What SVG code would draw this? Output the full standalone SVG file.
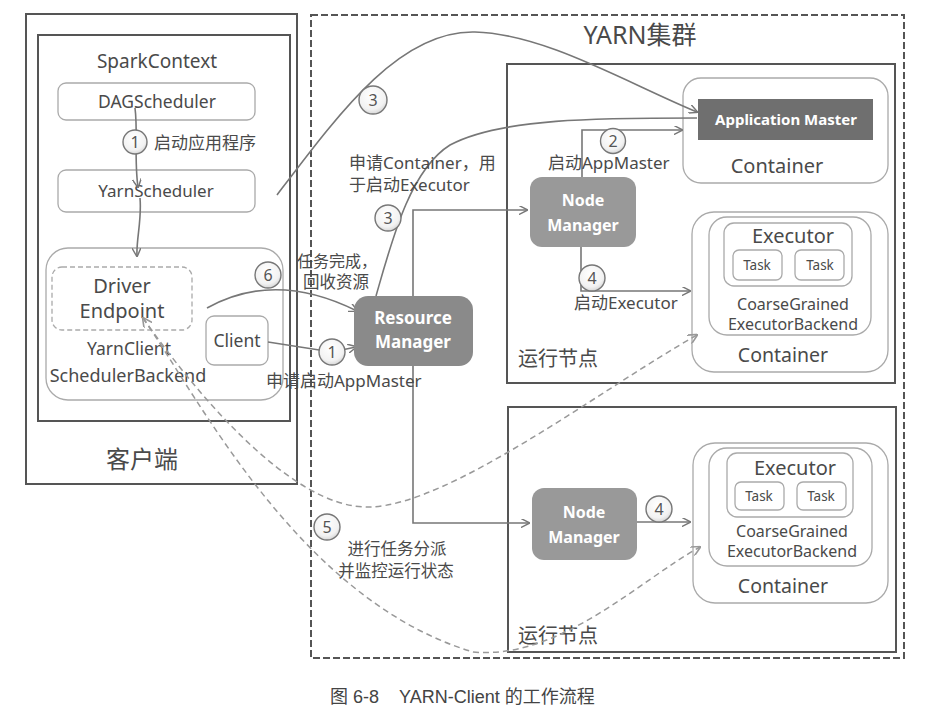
<svg xmlns="http://www.w3.org/2000/svg" width="936" height="719" viewBox="0 0 936 719">
<style>
text{font-family:"Noto Sans","Noto Sans CJK SC",sans-serif;fill:#4a4a4a}
.c{text-anchor:middle}
.frame{fill:none;stroke:#555;stroke-width:2}
.dash{fill:none;stroke:#555;stroke-width:2;stroke-dasharray:7,3}
.soft{fill:#fff;stroke:#aaa;stroke-width:1.3}
.gbox{fill:#999;stroke:none}
.wt{fill:#fff;font-weight:bold}
.ln{fill:none;stroke:#777;stroke-width:1.6}
.dl{fill:none;stroke:#999;stroke-width:1.5;stroke-dasharray:6,4}
.num{fill:url(#cg);stroke:#777;stroke-width:1.4}
.nt{font-size:16px;text-anchor:middle;fill:#555}
.lb{font-size:17px}
</style>
<defs>
<radialGradient id="cg" cx="0.45" cy="0.35" r="0.7"><stop offset="0" stop-color="#fff"/><stop offset="0.7" stop-color="#f2f2f2"/><stop offset="1" stop-color="#d0d0d0"/></radialGradient>
<marker id="ar" viewBox="0 0 10 10" refX="9" refY="5" markerWidth="9" markerHeight="9" markerUnits="userSpaceOnUse" orient="auto-start-reverse"><path d="M0,0 L10,5 L0,10" fill="none" stroke="#777" stroke-width="1.6"/></marker>
<marker id="ard" viewBox="0 0 10 10" refX="9" refY="5" markerWidth="10" markerHeight="10" markerUnits="userSpaceOnUse" orient="auto-start-reverse"><path d="M0,0 L10,5 L0,10" fill="none" stroke="#999" stroke-width="1.6"/></marker>
</defs>
<rect width="936" height="719" fill="#fff"/>

<g id="client">
<rect class="frame" x="26" y="14" width="271" height="470"/>
<text class="c" x="142" y="468" font-size="24">客户端</text>
</g>
<g id="sparkcontext">
<rect class="frame" x="38" y="35" width="252" height="386" stroke-width="1.6"/>
<text class="c" x="157" y="68" font-size="19">SparkContext</text>
</g>
<g id="dagscheduler">
<rect class="soft" x="58" y="83" width="197" height="37" rx="8"/>
<text class="c" x="157" y="108" font-size="17.5">DAGScheduler</text>
</g>
<g id="yarnscheduler">
<rect class="soft" x="58" y="170" width="197" height="42" rx="8"/>
<text class="c" x="156" y="197" font-size="17">YarnScheduler</text>
</g>
<g id="backend">
<rect class="soft" x="46" y="248" width="237" height="152" rx="22"/>
<text class="c" x="129" y="355" font-size="17.5">YarnClient</text>
<text class="c" x="128" y="382" font-size="18">SchedulerBackend</text>
</g>
<g id="driver">
<rect fill="#fff" stroke="#aaa" stroke-width="1.3" stroke-dasharray="5,3" x="52" y="267" width="140" height="63" rx="10"/>
<text class="c" x="122" y="293" font-size="20">Driver</text>
<text class="c" x="122" y="318" font-size="20">Endpoint</text>
</g>
<g id="clientbox">
<rect class="soft" x="206" y="316" width="62" height="49" rx="8"/>
<text class="c" x="237" y="347" font-size="17.5">Client</text>
</g>

<g id="yarn">
<rect class="dash" x="311" y="15" width="593" height="643"/>
<text class="c" x="640" y="44" font-size="25">YARN集群</text>
</g>
<g id="node1">
<rect class="frame" x="507" y="64" width="388" height="319"/>
<text x="518" y="366" font-size="20">运行节点</text>
</g>
<g id="node2">
<rect class="frame" x="508" y="407" width="388" height="245"/>
<text x="518" y="643" font-size="20">运行节点</text>
</g>

<g id="amcontainer">
<rect class="soft" x="683" y="78" width="205" height="105" rx="18"/>
<rect x="698" y="99" width="175" height="41" fill="#6f6f6f"/>
<text class="c wt" x="786" y="125" font-size="15">Application Master</text>
<text class="c" x="777" y="173" font-size="20">Container</text>
</g>

<g id="excontainer1">
<rect class="soft" x="692" y="212" width="196" height="160" rx="22"/>
<rect class="soft" x="709" y="217" width="162" height="118" rx="18"/>
<rect class="soft" x="724" y="223" width="128" height="63" rx="10" stroke="#888"/>
<text class="c" x="793" y="243" font-size="20">Executor</text>
<rect class="soft" x="733" y="250" width="49" height="30" rx="6"/>
<text class="c" x="757" y="270" font-size="13.5">Task</text>
<rect class="soft" x="795" y="250" width="49" height="30" rx="6"/>
<text class="c" x="820" y="270" font-size="13.5">Task</text>
<text class="c" x="793" y="310" font-size="16">CoarseGrained</text>
<text class="c" x="793" y="330" font-size="16">ExecutorBackend</text>
<text class="c" x="783" y="362" font-size="19.5">Container</text>
</g>

<g id="excontainer2">
<rect class="soft" x="693" y="443" width="195" height="160" rx="22"/>
<rect class="soft" x="709" y="448" width="163" height="118" rx="18"/>
<rect class="soft" x="727" y="453" width="126" height="64" rx="10" stroke="#888"/>
<text class="c" x="795" y="475" font-size="20">Executor</text>
<rect class="soft" x="735" y="482" width="49" height="28" rx="6"/>
<text class="c" x="759" y="501" font-size="13.5">Task</text>
<rect class="soft" x="797" y="482" width="49" height="28" rx="6"/>
<text class="c" x="821" y="501" font-size="13.5">Task</text>
<text class="c" x="792" y="537" font-size="16">CoarseGrained</text>
<text class="c" x="792" y="557" font-size="16">ExecutorBackend</text>
<text class="c" x="783" y="593" font-size="19.5">Container</text>
</g>

<g id="connectors">
<path class="ln" d="M135,108 C138,130 134,160 138,187" marker-end="url(#ar)"/>
<path class="ln" d="M140,198 C142,220 136,240 137,256" marker-end="url(#ar)"/>
<path class="ln" d="M277,195 C340,112 400,30 475,32 C545,34 625,82 697,112" marker-end="url(#ar)"/>
<path class="ln" d="M376,296 C392,240 410,170 450,145 C500,118 600,118 697,118"/>
<path class="ln" d="M413,296 L413,210 L527,210" marker-end="url(#ar)"/>
<path class="ln" d="M413,366 L413,523 L529,523" marker-end="url(#ar)"/>
<path class="ln" d="M582,177 L582,130 L682,130" marker-end="url(#ar)"/>
<path class="ln" d="M581,247 L581,291 L690,291" marker-end="url(#ar)"/>
<path class="ln" d="M637,522 L690,522" marker-end="url(#ar)"/>
<path class="ln" d="M268,342 L332,352 L356,347" marker-end="url(#ar)"/>
<path class="ln" d="M207,308 Q275,270 357,311" marker-end="url(#ar)"/>
<path class="dl" d="M143,318 C190,385 290,510 370,507 C450,505 600,390 697,335" marker-start="url(#ard)" marker-end="url(#ard)"/>
<path class="dl" d="M143,318 C200,400 300,600 473,652 C560,660 640,580 700,547" marker-end="url(#ard)"/>
</g>

<g id="labels">
<circle class="num" cx="135" cy="142" r="12"/><text class="nt" x="135" y="148">1</text>
<text class="lb" x="154" y="149">启动应用程序</text>
<circle class="num" cx="373" cy="100" r="14"/><text class="nt" x="373" y="106">3</text>
<text class="lb" x="349" y="169">申请Container，用</text>
<text class="lb" x="349" y="191">于启动Executor</text>
<circle class="num" cx="388" cy="218" r="13"/><text class="nt" x="388" y="224">3</text>
<circle class="num" cx="613" cy="141" r="12.5"/><text class="nt" x="613" y="147">2</text>
<text class="lb" x="548" y="169">启动AppMaster</text>
<circle class="num" cx="592" cy="278" r="13"/><text class="nt" x="592" y="284">4</text>
<text class="lb" x="574" y="309">启动Executor</text>
<circle class="num" cx="659" cy="509" r="13"/><text class="nt" x="659" y="515">4</text>
<circle class="num" cx="268" cy="275" r="13"/><text class="nt" x="268" y="281">6</text>
<text x="297" y="267" font-size="16">任务完成，</text>
<text x="303" y="288" font-size="16.5">回收资源</text>
<circle class="num" cx="332" cy="352" r="13"/><text class="nt" x="332" y="358">1</text>
<text class="lb" x="266" y="387">申请启动AppMaster</text>
<circle class="num" cx="327" cy="527" r="13"/><text class="nt" x="327" y="533">5</text>
<text class="c" x="397" y="555" font-size="16.5">进行任务分派</text>
<text class="c" x="396" y="577" font-size="16.5">并监控运行状态</text>
</g>

<g id="nm1">
<rect class="gbox" x="530" y="177" width="106" height="70" rx="12"/>
<text class="c wt" x="583" y="206" font-size="16">Node</text>
<text class="c wt" x="583" y="231" font-size="16">Manager</text>
</g>
<g id="nm2">
<rect class="gbox" x="532" y="488" width="105" height="72" rx="12"/>
<text class="c wt" x="584" y="518" font-size="16">Node</text>
<text class="c wt" x="584" y="543" font-size="16">Manager</text>
</g>
<g id="rm">
<rect x="354" y="296" width="119" height="70" rx="14" fill="#8a8a8a"/>
<text class="c wt" x="413" y="324" font-size="17">Resource</text>
<text class="c wt" x="413" y="348" font-size="17">Manager</text>
</g>

<text x="330" y="703" font-size="18" style="font-family:'Liberation Sans','Noto Sans CJK SC',sans-serif;fill:#444" xml:space="preserve">图 6-8    YARN-Client 的工作流程</text>
</svg>
